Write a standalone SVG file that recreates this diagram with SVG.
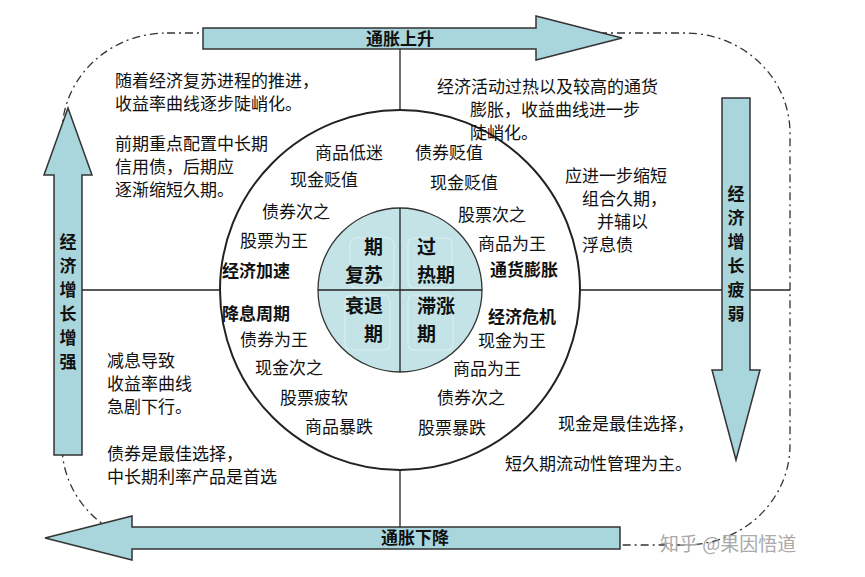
<svg xmlns="http://www.w3.org/2000/svg" width="865" height="577" viewBox="0 0 865 577">
<style>
text{font-family:"Noto Sans CJK SC","Liberation Sans",sans-serif;font-size:17px;fill:#111}
.b{font-weight:bold}
.big{font-size:19px;font-weight:bold}
.arr{fill:#a9d6dc;stroke:#333;stroke-width:1.5}
.ln{stroke:#222;stroke-width:1.3;fill:none}
</style>
<rect width="865" height="577" fill="#fff"/>
<g id="connectors">
<rect x="62" y="33" width="728" height="512" rx="105" ry="100" fill="none" stroke="#333" stroke-width="1.3" stroke-dasharray="8,4,2,4"/>
<line class="ln" x1="400" y1="45" x2="400" y2="545"/>
<line class="ln" x1="60" y1="290" x2="790" y2="290"/>
</g>
<g id="outer-circle"><circle cx="400" cy="290" r="180" fill="#fff" stroke="#222" stroke-width="2"/></g>
<g id="inner-circle">
<circle cx="400" cy="290" r="82" fill="#c4e3e7" stroke="#333" stroke-width="1.3"/>
<line class="ln" x1="400" y1="208" x2="400" y2="372"/>
<line class="ln" x1="318" y1="290" x2="482" y2="290"/>
<g fill="none" stroke="#d8eef0" stroke-width="1.2">
<rect x="350" y="238" width="44" height="50" rx="6"/><rect x="408" y="238" width="44" height="50" rx="6"/>
<rect x="345" y="295" width="45" height="55" rx="6"/><rect x="408" y="295" width="45" height="55" rx="6"/>
</g>
<text class="big" x="383" y="254" text-anchor="end">期</text>
<text class="big" x="383" y="282" text-anchor="end">复苏</text>
<text class="big" x="417" y="254">过</text>
<text class="big" x="417" y="282">热期</text>
<text class="big" x="383" y="313" text-anchor="end">衰退</text>
<text class="big" x="383" y="341" text-anchor="end">期</text>
<text class="big" x="417" y="313">滞涨</text>
<text class="big" x="417" y="341">期</text>
</g>
<g id="arrow-top"><polygon class="arr" points="203,28 536,28 536,16 622,38 536,60 536,49 203,49"/><text class="b" x="400" y="45" text-anchor="middle">通胀上升</text></g>
<g id="arrow-bottom"><polygon class="arr" points="620,527 132,527 132,516 45,538 132,560 132,549 620,549"/><text class="b" x="415" y="544" text-anchor="middle">通胀下降</text></g>
<g id="arrow-left"><polygon class="arr" points="54,455 54,175 44,175 68,108 92,175 82,175 82,455"/>
<text class="b" x="68" y="248" text-anchor="middle">经</text><text class="b" x="68" y="272" text-anchor="middle">济</text><text class="b" x="68" y="296" text-anchor="middle">增</text><text class="b" x="68" y="320" text-anchor="middle">长</text><text class="b" x="68" y="344" text-anchor="middle">增</text><text class="b" x="68" y="368" text-anchor="middle">强</text></g>
<g id="arrow-right"><polygon class="arr" points="722,98 750,98 750,370 760,370 736,460 712,370 722,370"/>
<text class="b" x="736" y="200" text-anchor="middle">经</text><text class="b" x="736" y="224" text-anchor="middle">济</text><text class="b" x="736" y="248" text-anchor="middle">增</text><text class="b" x="736" y="272" text-anchor="middle">长</text><text class="b" x="736" y="296" text-anchor="middle">疲</text><text class="b" x="736" y="320" text-anchor="middle">弱</text></g>
<g id="q1-left">
<text x="115" y="87">随着经济复苏进程的推进，</text><text x="115" y="110">收益率曲线逐步陡峭化。</text>
<text x="115" y="150">前期重点配置中长期</text><text x="115" y="173">信用债，后期应</text><text x="115" y="196">逐渐缩短久期。</text>
<text x="315" y="159">商品低迷</text><text x="290" y="186">现金贬值</text><text x="262" y="218">债券次之</text><text x="240" y="247">股票为王</text><text class="b" x="222" y="277">经济加速</text>
</g>
<g id="q2-right">
<text x="437" y="93">经济活动过热以及较高的通货</text><text x="470" y="116">膨胀，收益曲线进一步</text><text x="470" y="139">陡峭化。</text>
<text x="565" y="182">应进一步缩短</text><text x="582" y="205">组合久期，</text><text x="597" y="228">并辅以</text><text x="582" y="251">浮息债</text>
<text x="415" y="159">债券贬值</text><text x="430" y="189">现金贬值</text><text x="458" y="221">股票次之</text><text x="478" y="250">商品为王</text><text class="b" x="490" y="276">通货膨胀</text>
</g>
<g id="q3-left">
<text class="b" x="222" y="320">降息周期</text><text x="240" y="346">债券为王</text><text x="255" y="374">现金次之</text><text x="280" y="404">股票疲软</text><text x="305" y="433">商品暴跌</text>
<text x="107" y="367">减息导致</text><text x="107" y="390">收益率曲线</text><text x="107" y="413">急剧下行。</text>
<text x="107" y="460">债券是最佳选择，</text><text x="107" y="483">中长期利率产品是首选</text>
</g>
<g id="q4-right">
<text class="b" x="488" y="323">经济危机</text><text x="478" y="347">现金为王</text><text x="453" y="375">商品为王</text><text x="437" y="404">债券次之</text><text x="418" y="434">股票暴跌</text>
<text x="558" y="430">现金是最佳选择，</text><text x="505" y="470">短久期流动性管理为主。</text>
</g>
<text x="660" y="551" style="font-size:19px;fill:#aaa">知乎 @果因悟道</text>
</svg>
